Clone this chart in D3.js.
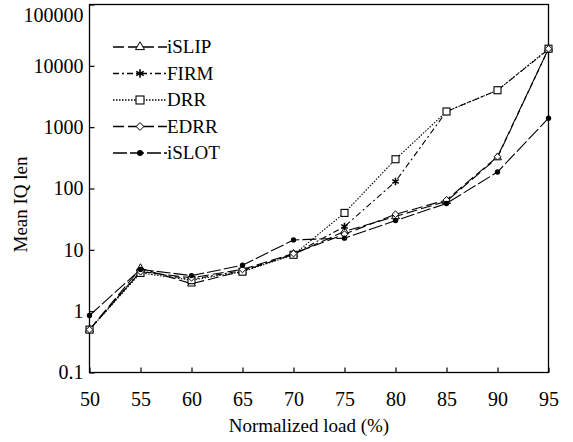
<!DOCTYPE html>
<html><head><meta charset="utf-8">
<script src="https://cdn.jsdelivr.net/npm/d3@7/dist/d3.min.js"></script>
<style>body{margin:0;background:#fff}svg{display:block}svg text{font-family:"Times New Roman","Liberation Serif",Times,"DejaVu Serif",serif !important;fill:#000}</style>
</head><body>
<svg id="c" width="573" height="442" font-family="Liberation Serif, serif"></svg>
<script>
const loads = [50, 55, 60, 65, 70, 75, 80, 85, 90, 95];
const iSLIP = [0.5, 5.0, 2.8, 4.5, 8.5, 20, 35, 62, 320, 19000];
const FIRM  = [0.5, 4.5, 3.3, 4.6, 8.5, 24, 130, 1800, 4000, 18500];
const DRR   = [0.5, 4.2, 3.2, 4.4, 8.3, 40, 300, 1800, 4000, 19000];
const EDRR  = [0.5, 4.4, 3.5, 4.8, 8.7, 18, 38, 65, 330, 19000];
const iSLOT = [0.85, 4.8, 3.8, 5.6, 14.5, 15.5, 30, 57, 186, 1400];
const yTicks = [0.1, 1, 10, 100, 1000, 10000, 100000];
const seriesNames = ["iSLIP", "FIRM", "DRR", "EDRR", "iSLOT"];
const seriesData = [iSLIP, FIRM, DRR, EDRR, iSLOT];

const styles = {
  iSLIP: {dash: "11,4", marker: "triangle"},
  FIRM:  {dash: "6,3,2,3", marker: "star"},
  DRR:   {dash: "1.5,1.5", marker: "square"},
  EDRR:  {dash: "11,4", marker: "diamond"},
  iSLOT: {dash: "14,3", marker: "circle"}
};

const svg = d3.select("#c");
const L = 89.5, R = 548.5, T = 4.5, B = 372.5;
const x = d3.scaleLinear().domain([50, 95]).range([L, R]);
const y = d3.scaleLog().domain([0.1, 100000]).range([B, T]);

svg.append("rect").attr("x", L).attr("y", T).attr("width", R - L).attr("height", B - T)
  .attr("fill", "none").attr("stroke", "#000").attr("stroke-width", 1.3);

const xAxis = d3.axisBottom(x).tickValues(loads).tickSize(-5).tickPadding(19).tickFormat(d3.format("d"));
const gx = svg.append("g").attr("transform", `translate(0,${B})`).call(xAxis);
gx.attr("font-family", null);
gx.select(".domain").remove();
gx.selectAll("line").attr("stroke", "#000").attr("stroke-width", 1.2);
gx.selectAll("text").attr("font-size", 20);

const yAxis = d3.axisLeft(y).tickValues(yTicks).tickSize(-5).tickPadding(6)
  .tickFormat(d => d < 1 ? "0.1" : d3.format("d")(d));
const gy = svg.append("g").attr("transform", `translate(${L},0)`).call(yAxis);
gy.attr("font-family", null);
gy.select(".domain").remove();
gy.selectAll("line").attr("stroke", "#000").attr("stroke-width", 1.2);
gy.selectAll("text").attr("font-size", 20)
  .attr("dy", d => d === 100000 ? "0.85em" : "0.32em");

svg.append("text").attr("x", (L + R) / 2 - 10).attr("y", 432).attr("text-anchor", "middle")
  .attr("font-size", 19).text("Normalized load (%)");
svg.append("text").attr("transform", `translate(27,${(T + B) / 2 + 16}) rotate(-90)`)
  .attr("text-anchor", "middle").attr("font-size", 19).text("Mean IQ len");

const line = d3.line().x((d, i) => x(loads[i])).y(d => y(d));

function marker(g, type, cx, cy, s) {
  if (type === "triangle") {
    g.append("path").attr("d", d3.symbol(d3.symbolTriangle, s * s * 0.55)())
      .attr("transform", `translate(${cx},${cy})`).attr("fill", "#fff").attr("stroke", "#000").attr("stroke-width", 1);
  } else if (type === "square") {
    g.append("rect").attr("x", cx - s / 2).attr("y", cy - s / 2).attr("width", s).attr("height", s)
      .attr("fill", "#fff").attr("stroke", "#000").attr("stroke-width", 1.1);
  } else if (type === "diamond") {
    g.append("path").attr("d", d3.symbol(d3.symbolDiamond2, s * s * 0.6)())
      .attr("transform", `translate(${cx},${cy})`).attr("fill", "#fff").attr("stroke", "#000").attr("stroke-width", 1);
  } else if (type === "circle") {
    g.append("circle").attr("cx", cx).attr("cy", cy).attr("r", s * 0.38).attr("fill", "#000");
  } else if (type === "star") {
    g.append("path").attr("d", d3.symbol(d3.symbolAsterisk, s * s * 0.8)())
      .attr("transform", `translate(${cx},${cy})`).attr("fill", "none").attr("stroke", "#000").attr("stroke-width", 1.6);
  }
}

const plot = svg.append("g");
seriesNames.forEach((name, k) => {
  const st = styles[name];
  plot.append("path").datum(seriesData[k]).attr("d", line).attr("fill", "none")
    .attr("stroke", "#000").attr("stroke-width", 1.1).attr("stroke-dasharray", st.dash);
});
seriesNames.forEach((name, k) => {
  const st = styles[name];
  const g = plot.append("g");
  seriesData[k].forEach((v, i) => marker(g, st.marker, x(loads[i]), y(v), 7));
});

const leg = svg.append("g");
seriesNames.forEach((name, k) => {
  const st = styles[name];
  const ly = 47 + k * 26.5;
  leg.append("line").attr("x1", 113).attr("x2", 167).attr("y1", ly).attr("y2", ly)
    .attr("stroke", "#000").attr("stroke-width", 1.3).attr("stroke-dasharray", st.dash);
  marker(leg, st.marker, 140, ly, 8);
  leg.append("text").attr("x", 167).attr("y", ly).attr("dy", "0.32em").attr("font-size", 19).text(name);
});
</script>
</body></html>
